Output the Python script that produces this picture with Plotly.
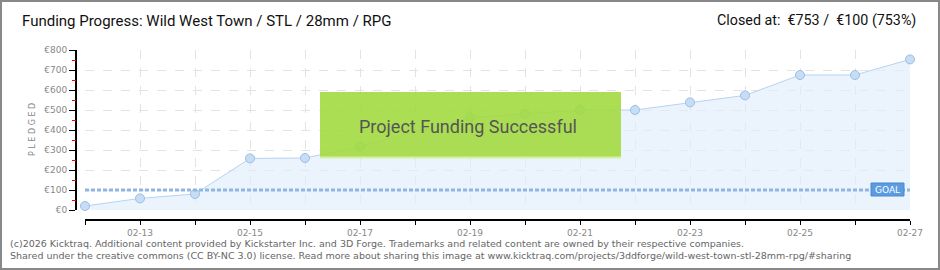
import plotly.graph_objects as go

dates = ["2026-02-12", "2026-02-13", "2026-02-14", "2026-02-15", "2026-02-16",
         "2026-02-17", "2026-02-19", "2026-02-20", "2026-02-21", "2026-02-22",
         "2026-02-23", "2026-02-24", "2026-02-25", "2026-02-26", "2026-02-27"]
pledged = [20, 58, 80, 258, 260, 318, 462, 481, 500, 500, 538, 573, 675, 675, 753]
goal = 100
tick_dates = ["2026-02-%02d" % d for d in range(12, 28)]
tick_text = [("02-%02d" % d) if d % 2 == 1 else "" for d in range(12, 28)]
minor_y = [50, 150, 250, 350, 450, 550, 650, 750]

title = "Funding Progress: Wild West Town / STL / 28mm / RPG"
closed = "Closed at:  €753 /  €100 (753%)"
banner = "Project Funding Successful"
footer1 = "(c)2026 Kicktraq. Additional content provided by Kickstarter Inc. and 3D Forge. Trademarks and related content are owned by their respective companies."
footer2 = "Shared under the creative commons (CC BY-NC 3.0) license. Read more about sharing this image at www.kicktraq.com/projects/3ddforge/wild-west-town-stl-28mm-rpg/#sharing"

W, H = 940, 270
L, R, T, B = 76, 30, 50, 50
PW, PH = W - L - R, H - T - B


def px(x):
    return (x - L) / PW


def py(y):
    return (H - B - y) / PH


fig = go.Figure()
fig.add_trace(go.Scatter(
    x=dates, y=pledged, mode="lines+markers", fill="tozeroy",
    fillcolor="rgba(225,238,252,0.65)",
    line=dict(color="#b5d3f3", width=1),
    marker=dict(size=9, color="#c6ddf6", line=dict(color="#9dbde3", width=1)),
    hoverinfo="skip", showlegend=False, cliponaxis=False))
fig.add_trace(go.Scatter(
    x=[tick_dates[0], tick_dates[-1]], y=[goal, goal], mode="lines",
    line=dict(color="#8fb5e3", width=3, dash="4px,2px"),
    hoverinfo="skip", showlegend=False))

grid = dict(showgrid=True, gridcolor="#e3e3e3", griddash="dash", gridwidth=1)
fig.update_layout(
    width=W, height=H, margin=dict(l=L, r=R, t=T, b=B, pad=0),
    paper_bgcolor="white", plot_bgcolor="white",
    font=dict(family="DejaVu Sans", color="#777"),
    xaxis=dict(
        type="date", range=[tick_dates[0], tick_dates[-1]],
        domain=[9 / PW, 1], anchor="free", position=0,
        tickvals=tick_dates, ticktext=tick_text, ticks="outside", ticklen=4,
        tickcolor="black", tickwidth=1, showline=True, linecolor="black",
        linewidth=2, tickfont=dict(size=9, color="#888"), zeroline=False,
        **grid),
    yaxis=dict(
        range=[0, 800], domain=[10 / PH, 1], anchor="free", position=0,
        tickmode="linear", tick0=0, dtick=100, tickprefix="€",
        ticks="outside", ticklen=6,
        tickcolor="black", tickwidth=1, showline=True, linecolor="black",
        linewidth=2, tickfont=dict(size=9, color="#888"), zeroline=False,
        **grid),
    yaxis2=dict(
        range=[0, 800], domain=[10 / PH, 1], anchor="free", position=0,
        overlaying="y", side="left", tickvals=minor_y, showticklabels=False,
        ticks="outside", ticklen=4, tickcolor="red", tickwidth=1,
        showgrid=False, zeroline=False, showline=False),
)
fig.add_trace(go.Scatter(x=[tick_dates[0]], y=[0], yaxis="y2", mode="none",
                         hoverinfo="skip", showlegend=False))

shapes = [
    dict(type="rect", xref="paper", yref="paper", x0=px(1), x1=px(939),
         y0=py(1), y1=py(269), line=dict(color="#888", width=2),
         fillcolor="rgba(0,0,0,0)", layer="above"),
    dict(type="rect", xref="paper", yref="paper", x0=px(320), x1=px(621),
         y0=py(158), y1=py(92), line=dict(width=0),
         fillcolor="rgba(160,218,60,0.88)", layer="above"),
    dict(type="line", xref="paper", yref="paper", x0=px(320), x1=px(621),
         y0=py(157.5), y1=py(157.5), line=dict(color="#d4f0a0", width=2),
         layer="above"),
    dict(type="rect", xref="paper", yref="paper", x0=px(871), x1=px(904),
         y0=py(196), y1=py(183), line=dict(color="#4a88d0", width=1),
         fillcolor="#5b9be0", layer="above"),
]
fig.update_layout(shapes=shapes)

ann = [
    dict(text=title, x=px(20), y=py(21), xanchor="left", yanchor="middle",
         font=dict(family="Roboto", size=15, color="#111")),
    dict(text=closed, x=px(918), y=py(21), xanchor="right", yanchor="middle",
         font=dict(family="Roboto", size=14.3, color="#111")),
    dict(text=banner, x=px(468), y=py(127), xanchor="center", yanchor="middle",
         font=dict(family="Roboto", size=18, color="#555")),
    dict(text="GOAL", x=px(887.5), y=py(189.5), xanchor="center", yanchor="middle",
         font=dict(family="DejaVu Sans", size=9, color="white")),
    dict(text="P L E D G E D", x=px(32), y=py(130), xanchor="center", yanchor="middle",
         textangle=-90, font=dict(family="DejaVu Sans", size=8, color="#888")),
    dict(text=footer1, x=px(8), y=py(243), xanchor="left", yanchor="middle",
         font=dict(family="DejaVu Sans", size=9.5, color="#666")),
    dict(text=footer2, x=px(8), y=py(256), xanchor="left", yanchor="middle",
         font=dict(family="DejaVu Sans", size=9.5, color="#666")),
]
for a in ann:
    a.update(xref="paper", yref="paper", showarrow=False)
fig.update_layout(annotations=ann)

fig.write_html("out.html")
